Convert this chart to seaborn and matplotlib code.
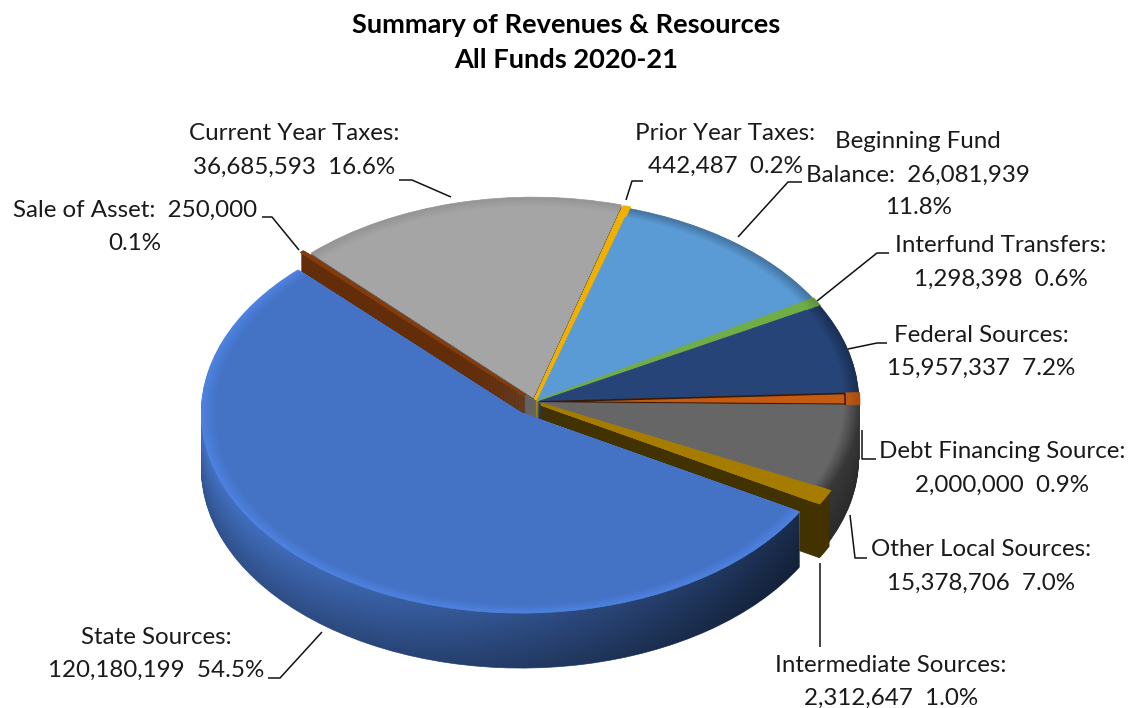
import numpy as np
import matplotlib
matplotlib.use("Agg")
import matplotlib.pyplot as plt
from matplotlib.path import Path
from matplotlib.colors import to_rgb
import seaborn as sns

# clockwise from the top of the pie
names = ['Prior Year Taxes', 'Beginning Fund Balance', 'Interfund Transfers', 'Federal Sources',
         'Debt Financing Source', 'Other Local Sources', 'Intermediate Sources', 'State Sources',
         'Sale of Asset', 'Current Year Taxes']
values = [442487, 26081939, 1298398, 15957337, 2000000, 15378706, 2312647, 120180199, 250000, 36685593]
percents = ['0.2%', '11.8%', '0.6%', '7.2%', '0.9%', '7.0%', '1.0%', '54.5%', '0.1%', '16.6%']
hex_colors = ['#F0B000', '#5B9BD5', '#70AD47', '#264478', '#C55A11',
              '#666666', '#A67C00', '#4472C4', '#843C0C', '#A5A5A5']

title_lines = ['Summary of Revenues & Resources', 'All Funds 2020-21']

sns.set_theme(style='white')
plt.rcParams['font.family'] = ['Lato', 'DejaVu Sans']
palette = sns.color_palette(hex_colors)

W, H = 1130, 708
fig = plt.figure(figsize=(W / 100, H / 100), dpi=100, facecolor='white')

# pie axes: one unit is 320 px across and 200 px down, which flattens the disc
cx, cy, sx, sy = 535, 402, 320, 200
ax = fig.add_axes([0, 0, 1, 1])
ax.set_axis_off()
xlim = (-cx / sx, (W - cx) / sx)
ylim = (-(H - cy) / sy, cy / sy)

explode = [0.012, 0.012, 0.012, 0.012, 0.014, 0.012, 0.022, 0.07, 0.045, 0.025]
wall_top = [0.8, 0.8, 0.8, 0.8, 0.5, 0.55, 0.4, 1.0, 0.75, 0.6]
wall_bottom = [0.6, 0.6, 0.6, 0.6, 0.5, 0.42, 0.4, 0.72, 0.75, 0.6]
rim_shade = [1.0, 0.75, 0.85, 0.7, 0.85, 0.6, 1.0, 1.14, 1.0, 0.9]
edge_width = [3.0, 0, 1.5, 0, 1.2, 0, 2.0, 0, 1.5, 0]
STATE = names.index('State Sources')
DEBT = names.index('Debt Financing Source')
depth = 55 / sy
steps = 55


def pie_layer(colors, center=(0, 0), radius=1.0, zorder=1, thick=False, dark_debt=False):
    wedges, _ = ax.pie(values, colors=colors, startangle=74, counterclock=False, explode=explode,
                       center=center, radius=radius, wedgeprops={'linewidth': 0.5}, frame=True)
    for w, c, lw in zip(wedges, colors, edge_width):
        w.set_zorder(zorder)
        w.set_edgecolor(c)
        if thick and lw:
            w.set_linewidth(lw)
    if dark_debt:
        wedges[DEBT].set_edgecolor('#3a1a05')
    return wedges


def shade(c, f):
    return tuple(min(1, v * f) for v in to_rgb(c))


# side walls, stacked from the bottom up
state_paths = []
for i in range(steps, 0, -1):
    t = i / steps
    cols = [shade(c, a + (b - a) * t) for c, a, b in zip(palette, wall_top, wall_bottom)]
    wedges = pie_layer(cols, center=(0, -depth * t), zorder=1)
    w = wedges[STATE]
    state_paths.append(w.get_patch_transform().transform_path(w.get_path()))

# the state wall falls into shadow towards the right
ramp = np.linspace(0, 1, 256)[None, :]
rgba = np.zeros((1, 256, 4))
rgba[..., 3] = ramp ** 1.2 * 0.62
im = ax.imshow(rgba, extent=[-1.05, 0.85, ylim[0], ylim[1]], aspect='auto', zorder=2)
im.set_clip_path(Path.make_compound_path(*state_paths), ax.transData)

# rim highlight, then the flat top
bevel = np.linspace(1.0, 0.955, 8)
for k, r in enumerate(bevel):
    t = k / (len(bevel) - 1)
    cols = [shade(c, s + (1 - s) * t) for c, s in zip(palette, rim_shade)]
    pie_layer(cols, radius=r, zorder=3 + k * 0.01, thick=True, dark_debt=k == len(bevel) - 1)

ax.set_aspect('auto')
ax.set_xlim(*xlim)
ax.set_ylim(*ylim)
ax.set_axis_off()

# labels and leader lines are placed in pixel coordinates
ov = fig.add_axes([0, 0, 1, 1], facecolor='none')
ov.set_xlim(0, W)
ov.set_ylim(H, 0)
ov.set_axis_off()

TEXT = '#1a1a1a'
FS = 17.4


def label(x, lines, ys):
    for s, y in zip(lines, ys):
        ov.text(x, y, s, ha='center', va='center', fontsize=FS, color=TEXT)


def entry(name):
    i = names.index(name)
    return f'{values[i]:,}  {percents[i]}'


label(294, ['Current Year Taxes:', entry('Current Year Taxes')], [134, 167])
label(135, [f"Sale of Asset:  {values[names.index('Sale of Asset')]:,}", percents[names.index('Sale of Asset')]], [210, 243])
label(725, ['Prior Year Taxes:', entry('Prior Year Taxes')], [134, 166])
label(918, ['Beginning Fund', f"Balance:  {values[names.index('Beginning Fund Balance')]:,}",
            percents[names.index('Beginning Fund Balance')]], [142, 175, 208])
label(1001, ['Interfund Transfers:', entry('Interfund Transfers')], [246, 279])
label(981, ['Federal Sources:', entry('Federal Sources')], [335, 368])
label(1002, ['Debt Financing Source:', entry('Debt Financing Source')], [451, 485])
label(981, ['Other Local Sources:', entry('Other Local Sources')], [550, 583])
label(891, ['Intermediate Sources:', entry('Intermediate Sources')], [665, 698])
label(156, ['State Sources:', entry('State Sources')], [638, 670])

ov.text(566, 25, title_lines[0], ha='center', va='center', fontsize=19.6, fontweight='bold', color='black')
ov.text(566, 60, title_lines[1], ha='center', va='center', fontsize=19.6, fontweight='bold', color='black')

leaders = [
    ([399, 412, 451], [180, 180, 197]),
    ([262, 272, 299], [217, 217, 250]),
    ([643, 632, 626], [181, 181, 200]),
    ([802, 788, 738], [182, 182, 237]),
    ([889, 877, 817], [253, 253, 301]),
    ([887, 877, 848], [343, 343, 349]),
    ([876, 862, 862], [459, 459, 430]),
    ([867, 855, 850], [558, 558, 515]),
    ([820, 820], [563, 647]),
    ([268, 280, 322], [678, 678, 632]),
]
for xs, ys in leaders:
    ov.plot(xs, ys, color='#111111', lw=1.1, solid_capstyle='butt')

fig.savefig('out.png', dpi=100)
